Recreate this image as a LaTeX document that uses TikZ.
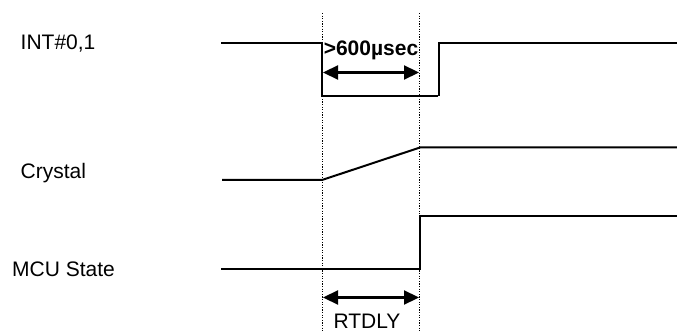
\documentclass[tikz,border=0pt]{standalone}
\usepackage{fontspec}
\setmainfont{Liberation Sans}
\usetikzlibrary{arrows.meta}
\begin{document}
\begin{tikzpicture}[x=1pt,y=-1pt,
  sig/.style={line width=2pt, line join=miter},
  guide/.style={line width=1.3pt, dash pattern=on 1.3pt off 1.3pt},
  span/.style={line width=2.2pt, {Triangle[length=15pt,width=14pt]}-{Triangle[length=15pt,width=14pt]}},
  lbl/.style={inner sep=0pt, anchor=base west, font=\fontsize{21}{25}\selectfont},
  tlbl/.style={inner sep=0pt, anchor=base, font=\fontsize{21}{25}\selectfont}]
\useasboundingbox (0,0) rectangle (677,331);
% time markers
\coordinate (ta) at (322.5,13);
\coordinate (tab) at (322.5,331);
\coordinate (tb) at (419.5,13);
\coordinate (tbb) at (419.5,331);
\draw[guide] (ta) -- (tab);
\draw[guide] (tb) -- (tbb);
% labels
\node[lbl] (lint) at (20.5,49.5) {INT\#0,1};
\node[lbl] (lcry) at (20.5,179) {Crystal};
\node[lbl] (lmcu) at (12,276) {MCU State};
% INT waveform
\draw[sig] (221,43) -- (322,43) -- (322,96) -- (438,96);
\draw[sig] (439,96) -- (439,43) -- (677,43);
% Crystal waveform
\draw[sig] (222,180) -- (322,180) -- (420,147.5) -- (677,147.5);
% MCU waveform
\draw[sig] (221,269) -- (420,269) -- (420,216) -- (677,216);
% spans
\coordinate (a1) at (323,72.5);
\coordinate (b1) at (419,72.5);
\draw[span] (a1) -- (b1);
\node[tlbl, font=\fontsize{21}{25}\selectfont\bfseries] (t1) at (371,55.5) {>600µsec};
\coordinate (a2) at (323,297.5);
\coordinate (b2) at (419,297.5);
\draw[span] (a2) -- (b2);
\node[tlbl] (t2) at (367,328) {RTDLY};
\end{tikzpicture}
\end{document}
